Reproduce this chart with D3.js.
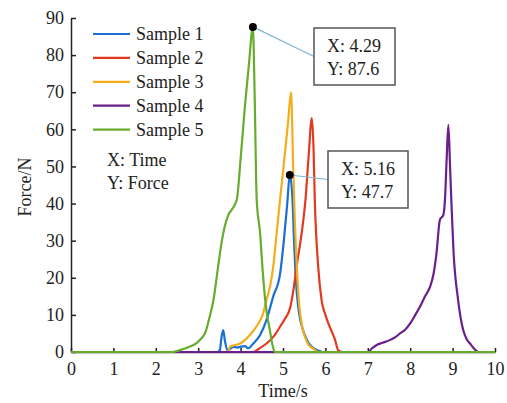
<!DOCTYPE html>
<html>
<head>
<meta charset="utf-8">
<script src="https://cdn.jsdelivr.net/npm/d3@7"></script>
<style>
  body { margin: 0; background: #fff; }
  svg { display: block; font-family: "Liberation Serif", "Times New Roman", serif; }
</style>
</head>
<body>
<svg width="507" height="403"></svg>
<script>
// Datos
const seriesNames = ["Sample 1", "Sample 2", "Sample 3", "Sample 4", "Sample 5"];
const seriesColors = ["#1a6fd0", "#e2391f", "#f2ae1c", "#6b1f8c", "#67ac2c"];

const t1 = [0, 3.45, 3.51, 3.55, 3.59, 3.63, 3.69, 3.75, 3.83, 3.92, 3.99, 4.1, 4.18, 4.3, 4.46, 4.61, 4.77, 4.93, 5.02, 5.1, 5.16, 5.22, 5.26, 5.3, 5.36, 5.42, 5.5, 5.6, 5.7, 5.85, 5.95, 10];
const f1 = [0, 0, 0.5, 4, 5.9, 3, 0.5, 0.8, 1.4, 1.2, 1.4, 1.6, 1, 2.3, 4.6, 8.6, 15, 21, 30, 40, 47.7, 42, 30, 20, 12, 8, 5, 2.5, 1.2, 0.3, 0, 0];

const t2 = [0, 4.3, 4.45, 4.61, 4.8, 4.93, 5.05, 5.17, 5.25, 5.32, 5.44, 5.53, 5.6, 5.68, 5.72, 5.75, 5.83, 5.91, 6.0, 6.07, 6.15, 6.23, 6.3, 6.4, 10];
const f2 = [0, 0, 1, 2.3, 4.5, 6.8, 9, 12, 17, 23, 32, 41, 52, 63, 55, 41, 23, 14, 10, 7.7, 5.5, 3.2, 0.5, 0, 0];

const t3 = [0, 3.7, 3.75, 3.85, 3.99, 4.1, 4.22, 4.32, 4.42, 4.52, 4.61, 4.7, 4.77, 4.85, 4.93, 5.05, 5.12, 5.19, 5.24, 5.28, 5.33, 5.38, 5.45, 5.52, 5.6, 5.7, 5.85, 10];
const f3 = [0, 0, 1.4, 1.8, 2.3, 3.2, 4.6, 6, 7.7, 10, 14, 18, 23, 32, 41, 54, 62, 70, 50, 35, 22, 13, 7, 4, 2, 1, 0, 0];

const t4 = [0, 7.01, 7.1, 7.21, 7.35, 7.52, 7.65, 7.76, 7.88, 8.0, 8.12, 8.23, 8.35, 8.47, 8.55, 8.62, 8.7, 8.78, 8.82, 8.86, 8.9, 8.94, 8.98, 9.02, 9.13, 9.25, 9.33, 9.41, 9.5, 9.61, 10];
const f4 = [0, 0, 1, 1.9, 2.5, 3.2, 4, 5, 6, 7.7, 10, 12.2, 15, 17.6, 21, 26.6, 35.6, 36.9, 41, 52, 61.2, 50, 38, 27.5, 14, 5.9, 3.5, 2.3, 1, 0, 0];

const t5 = [0, 2.4, 2.57, 2.75, 2.96, 3.06, 3.16, 3.26, 3.36, 3.47, 3.55, 3.63, 3.71, 3.8, 3.91, 4.0, 4.1, 4.2, 4.29, 4.33, 4.38, 4.46, 4.52, 4.58, 4.64, 4.69, 4.75, 4.81, 10];
const f5 = [0, 0, 0.5, 1.2, 2.4, 3.5, 5, 9, 14, 23, 29.4, 34, 36.9, 38.5, 41, 52, 66, 78, 87.6, 70, 41, 32, 22, 14, 9, 5.9, 2, 0, 0];

const xTicks = [0, 1, 2, 3, 4, 5, 6, 7, 8, 9, 10];
const yTicks = [0, 10, 20, 30, 40, 50, 60, 70, 80, 90];

// Puntos marcados (data tips)
const tips = [
  { x: 4.29, y: 87.6, box: [314, 28, 81, 57] },
  { x: 5.16, y: 47.7, box: [328, 151, 80, 57] }
];

const svg = d3.select("svg"),
  width = +svg.attr("width"),
  height = +svg.attr("height");

const margin = { top: 18, right: 12, bottom: 51, left: 71 };

const x = d3.scaleLinear().domain([0, 10]).range([margin.left, width - margin.right]);
const y = d3.scaleLinear().domain([0, 90]).range([height - margin.bottom, margin.top]);

const allT = [t1, t2, t3, t4, t5];
const allF = [f1, f2, f3, f4, f5];
const series = seriesNames.map((name, i) => ({
  name,
  color: seriesColors[i],
  values: allT[i].map((t, j) => [t, allF[i][j]])
}));

// Ejes
const xAxis = svg.append("g")
  .attr("transform", `translate(0, ${y(0)})`)
  .call(d3.axisBottom(x).tickValues(xTicks).tickSizeInner(-4).tickSizeOuter(0).tickPadding(8));

const yAxis = svg.append("g")
  .attr("transform", `translate(${x(0)}, 0)`)
  .call(d3.axisLeft(y).tickValues(yTicks).tickSizeInner(-5).tickSizeOuter(0).tickPadding(7));

[xAxis, yAxis].forEach(a => {
  a.selectAll("text").style("font-size", "18px").style("font-family", "Liberation Serif, serif").attr("fill", "#222");
  a.selectAll("line").attr("stroke", "#222").attr("stroke-width", 1.5);
  a.select(".domain").attr("stroke", "#222").attr("stroke-width", 1.5);
});
xAxis.selectAll("text").attr("dy", "0.71em").attr("y", 10);

svg.append("text")
  .attr("x", (x(0) + x(10)) / 2)
  .attr("y", 397)
  .attr("text-anchor", "middle")
  .style("font-size", "18px")
  .attr("fill", "#222")
  .text("Time/s");

svg.append("text")
  .attr("transform", "rotate(-90)")
  .attr("x", -187)
  .attr("y", 31)
  .attr("text-anchor", "middle")
  .style("font-size", "18px")
  .attr("fill", "#222")
  .text("Force/N");

// Curvas
const line = d3.line()
  .x(d => x(d[0]))
  .y(d => y(d[1]))
  .curve(d3.curveMonotoneX);

svg.selectAll("path.serie")
  .data(series)
  .join("path")
  .attr("class", "serie")
  .attr("fill", "none")
  .attr("stroke", d => d.color)
  .attr("stroke-width", 2.2)
  .attr("stroke-linejoin", "round")
  .attr("d", d => line(d.values));

// Leyenda
const legend = svg.append("g").attr("transform", "translate(93, 34)");
series.forEach((s, i) => {
  const g = legend.append("g").attr("transform", `translate(0, ${i * 23.9})`);
  g.append("line").attr("x1", 0).attr("x2", 37).attr("stroke", s.color).attr("stroke-width", 2.2);
  g.append("text").attr("x", 43).attr("y", 6).style("font-size", "18px").attr("fill", "#222").text(s.name);
});
svg.append("text").attr("x", 107).attr("y", 166).style("font-size", "18px").attr("fill", "#222").text("X: Time");
svg.append("text").attr("x", 107).attr("y", 189).style("font-size", "18px").attr("fill", "#222").text("Y: Force");

// Data tips
tips.forEach(tp => {
  const [bx, by, bw, bh] = tp.box;
  svg.append("line")
    .attr("x1", x(tp.x)).attr("y1", y(tp.y))
    .attr("x2", bx).attr("y2", by + bh / 2)
    .attr("stroke", "#7db6dc").attr("stroke-width", 1.2);
  svg.append("rect")
    .attr("x", bx).attr("y", by).attr("width", bw).attr("height", bh)
    .attr("fill", "#fff").attr("stroke", "#555").attr("stroke-width", 1.5);
  svg.append("text").attr("x", bx + 13).attr("y", by + 24).style("font-size", "18px").attr("fill", "#222")
    .text(`X: ${tp.x.toFixed(2)}`);
  svg.append("text").attr("x", bx + 13).attr("y", by + 47).style("font-size", "18px").attr("fill", "#222")
    .text(`Y: ${tp.y.toFixed(1)}`);
  svg.append("circle")
    .attr("cx", x(tp.x)).attr("cy", y(tp.y)).attr("r", 4)
    .attr("fill", "#000");
});
</script>
</body>
</html>
